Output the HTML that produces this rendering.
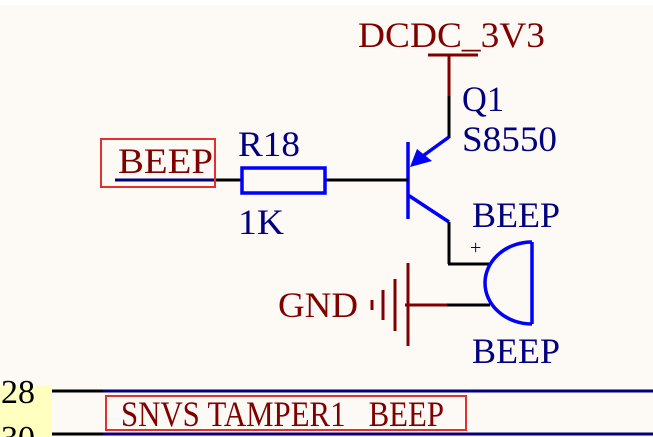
<!DOCTYPE html>
<html><head><style>
html,body{margin:0;padding:0;background:#fdfaf5;}
svg{display:block}
text{font-family:"Liberation Serif",serif;white-space:pre;}
</style></head><body>
<svg width="653" height="437" xmlns="http://www.w3.org/2000/svg">
<rect x="0" y="0" width="653" height="437" fill="#fdfaf5"/>
<rect x="0" y="0" width="653" height="5" fill="#ffffff"/>
<text x="358" y="47" font-size="36" fill="#800000" textLength="187" lengthAdjust="spacingAndGlyphs">DCDC_3V3</text>
<line x1="428" y1="55" x2="478" y2="55" stroke="#800000" stroke-width="3"/>
<line x1="449" y1="55" x2="449" y2="97" stroke="#800000" stroke-width="3"/>
<line x1="449" y1="96" x2="449" y2="138" stroke="#000" stroke-width="3"/>
<text x="462" y="111" font-size="36" fill="#000080" textLength="42" lengthAdjust="spacingAndGlyphs">Q1</text>
<text x="462" y="151" font-size="36" fill="#000080" textLength="95" lengthAdjust="spacingAndGlyphs">S8550</text>
<line x1="408" y1="142" x2="408" y2="219" stroke="#0000ff" stroke-width="3.5"/>
<line x1="449" y1="137" x2="420" y2="158" stroke="#0000ff" stroke-width="3.5"/>
<polygon points="410,167 417,149 432,161" fill="#0000ff"/>
<line x1="408" y1="195" x2="449" y2="222" stroke="#0000ff" stroke-width="3.5"/>
<line x1="449" y1="222" x2="449" y2="264" stroke="#000" stroke-width="3"/>
<line x1="448" y1="264" x2="490" y2="264" stroke="#000" stroke-width="3"/>
<text x="472" y="227" font-size="36" fill="#000080" textLength="88" lengthAdjust="spacingAndGlyphs">BEEP</text>
<text x="470" y="254" font-size="20" fill="#000080">+</text>
<path d="M532,242 L532,324 M532,242 A47,41 0 0 0 532,324" fill="none" stroke="#0000ff" stroke-width="3.5"/>
<line x1="405" y1="305" x2="448" y2="305" stroke="#800000" stroke-width="3"/>
<line x1="447" y1="305" x2="490" y2="305" stroke="#000" stroke-width="3"/>
<line x1="408" y1="263" x2="408" y2="346" stroke="#800000" stroke-width="3"/>
<line x1="395" y1="279" x2="395" y2="331" stroke="#800000" stroke-width="3"/>
<line x1="383" y1="290" x2="383" y2="320" stroke="#800000" stroke-width="3"/>
<line x1="372" y1="300" x2="372" y2="310" stroke="#800000" stroke-width="3"/>
<text x="278" y="317" font-size="36" fill="#800000" textLength="80" lengthAdjust="spacingAndGlyphs">GND</text>
<text x="472" y="363" font-size="36" fill="#000080" textLength="88" lengthAdjust="spacingAndGlyphs">BEEP</text>
<line x1="115" y1="180" x2="216" y2="180" stroke="#000080" stroke-width="3"/>
<line x1="215" y1="180" x2="408" y2="180" stroke="#000" stroke-width="3"/>
<rect x="242" y="168" width="83" height="25" fill="#fdfaf5" stroke="#0000ff" stroke-width="3.5"/>
<text x="238" y="156" font-size="36" fill="#000080" textLength="62" lengthAdjust="spacingAndGlyphs">R18</text>
<text x="238" y="234" font-size="36" fill="#000080" textLength="46" lengthAdjust="spacingAndGlyphs">1K</text>
<rect x="101" y="139" width="114" height="48" fill="none" stroke="#e03030" stroke-width="2"/>
<text x="118" y="173" font-size="36" fill="#800000" textLength="95" lengthAdjust="spacingAndGlyphs">BEEP</text>
<rect x="0" y="385" width="52" height="52" fill="#ffffc0"/>
<text x="1" y="403" font-size="34" fill="#000">28</text>
<text x="1" y="449" font-size="34" fill="#000">30</text>
<line x1="52" y1="391" x2="103" y2="391" stroke="#000" stroke-width="3"/>
<line x1="103" y1="391" x2="653" y2="391" stroke="#000080" stroke-width="3"/>
<line x1="52" y1="434" x2="103" y2="434" stroke="#000" stroke-width="3"/>
<line x1="103" y1="434" x2="653" y2="434" stroke="#000080" stroke-width="3"/>
<rect x="106" y="396" width="360" height="34" fill="none" stroke="#e03030" stroke-width="2"/>
<text x="121" y="426" font-size="36" fill="#800000" textLength="323" lengthAdjust="spacingAndGlyphs">SNVS&#160;TAMPER1&#160;&#160;&#160;BEEP</text>
</svg>
</body></html>
